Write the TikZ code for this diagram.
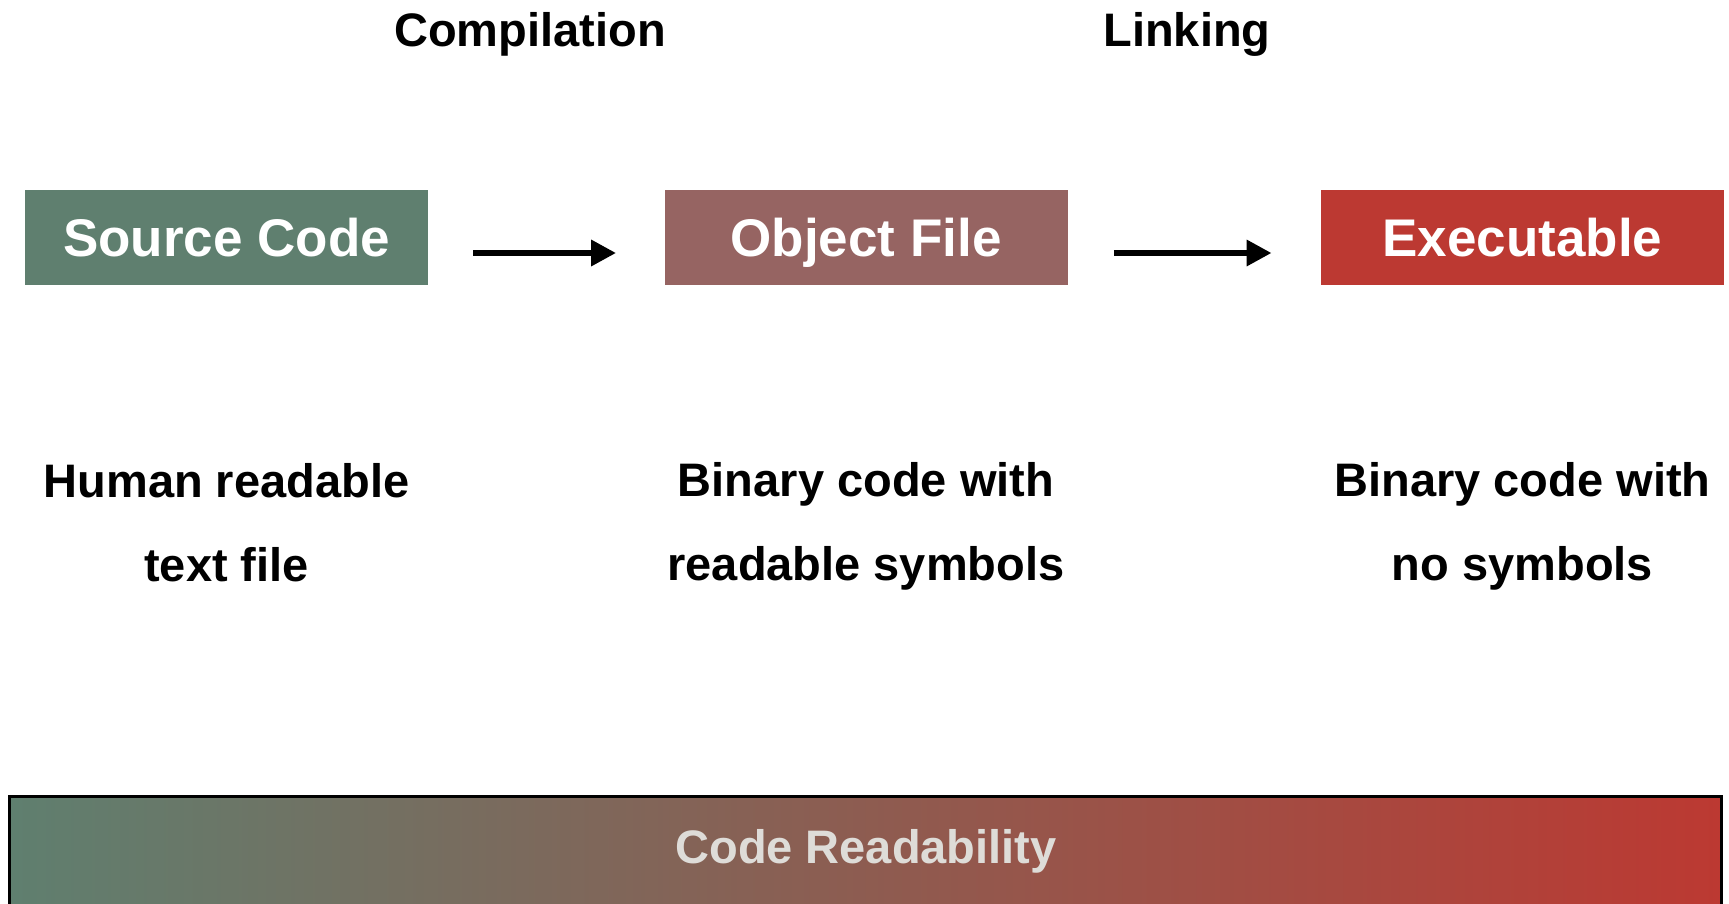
\documentclass[tikz,border=0pt]{standalone}
\usepackage{fontspec}
\setmainfont{Liberation Sans}
\usetikzlibrary{arrows.meta}

\definecolor{srcgreen}{HTML}{5F7F6F}
\definecolor{objbrown}{HTML}{966462}
\definecolor{exered}{HTML}{BC3932}
\definecolor{bartext}{HTML}{DEDCD8}

\begin{document}
\begin{tikzpicture}[x=0.5pt, y=-0.5pt,
    stage/.style={minimum width=201.5pt, minimum height=47.5pt, inner sep=0pt,
        text height=19pt, text depth=0pt,
        text=white, font=\fontsize{26.5}{30}\selectfont\bfseries},
    step label/.style={font=\fontsize{23.5}{28}\selectfont\bfseries},
    note/.style={align=center, font=\fontsize{23.5}{42}\selectfont\bfseries},
    flow/.style={line width=3.2pt, -{Triangle[length=12.5pt,width=12.5pt]}}]
    \useasboundingbox (0,0) rectangle (1729,904);

    % stages
    \node[stage, fill=srcgreen] (src) at (226.5,237) {Source Code};
    \node[stage, fill=objbrown] (obj) at (866,237) {Object File};
    \node[stage, fill=exered] (exe) at (1522.5,237) {Executable};

    % step names
    \node[step label] (compile) at (530,34) {Compilation};
    \node[step label] (link) at (1187,34) {Linking};

    \draw[flow, shorten <=22.5pt, shorten >=24pt] ([yshift=-8pt]src.east) -- ([yshift=-8pt]obj.west);
    \draw[flow, shorten <=23pt, shorten >=24.5pt] ([yshift=-8pt]obj.east) -- ([yshift=-8pt]exe.west);

    % descriptions
    \node[note] (srcnote) at (226.5,523) {Human readable\\text file};
    \node[note] (objnote) at (866,526.5) {Binary code with\\readable symbols};
    \node[note] (exenote) at (1522.5,526.5) {Binary code with\\no symbols};

    % readability bar
    \shade[left color=srcgreen, right color=exered] (9,796) rectangle (1721,904);
    \draw[line width=1.5pt] (9,904) -- (9,796) -- (1721,796) -- (1721,904);
    \node[text=bartext, text height=17pt, text depth=0pt,
        font=\fontsize{23.5}{28}\selectfont\bfseries] (readability) at (866,846) {Code Readability};
\end{tikzpicture}
\end{document}
